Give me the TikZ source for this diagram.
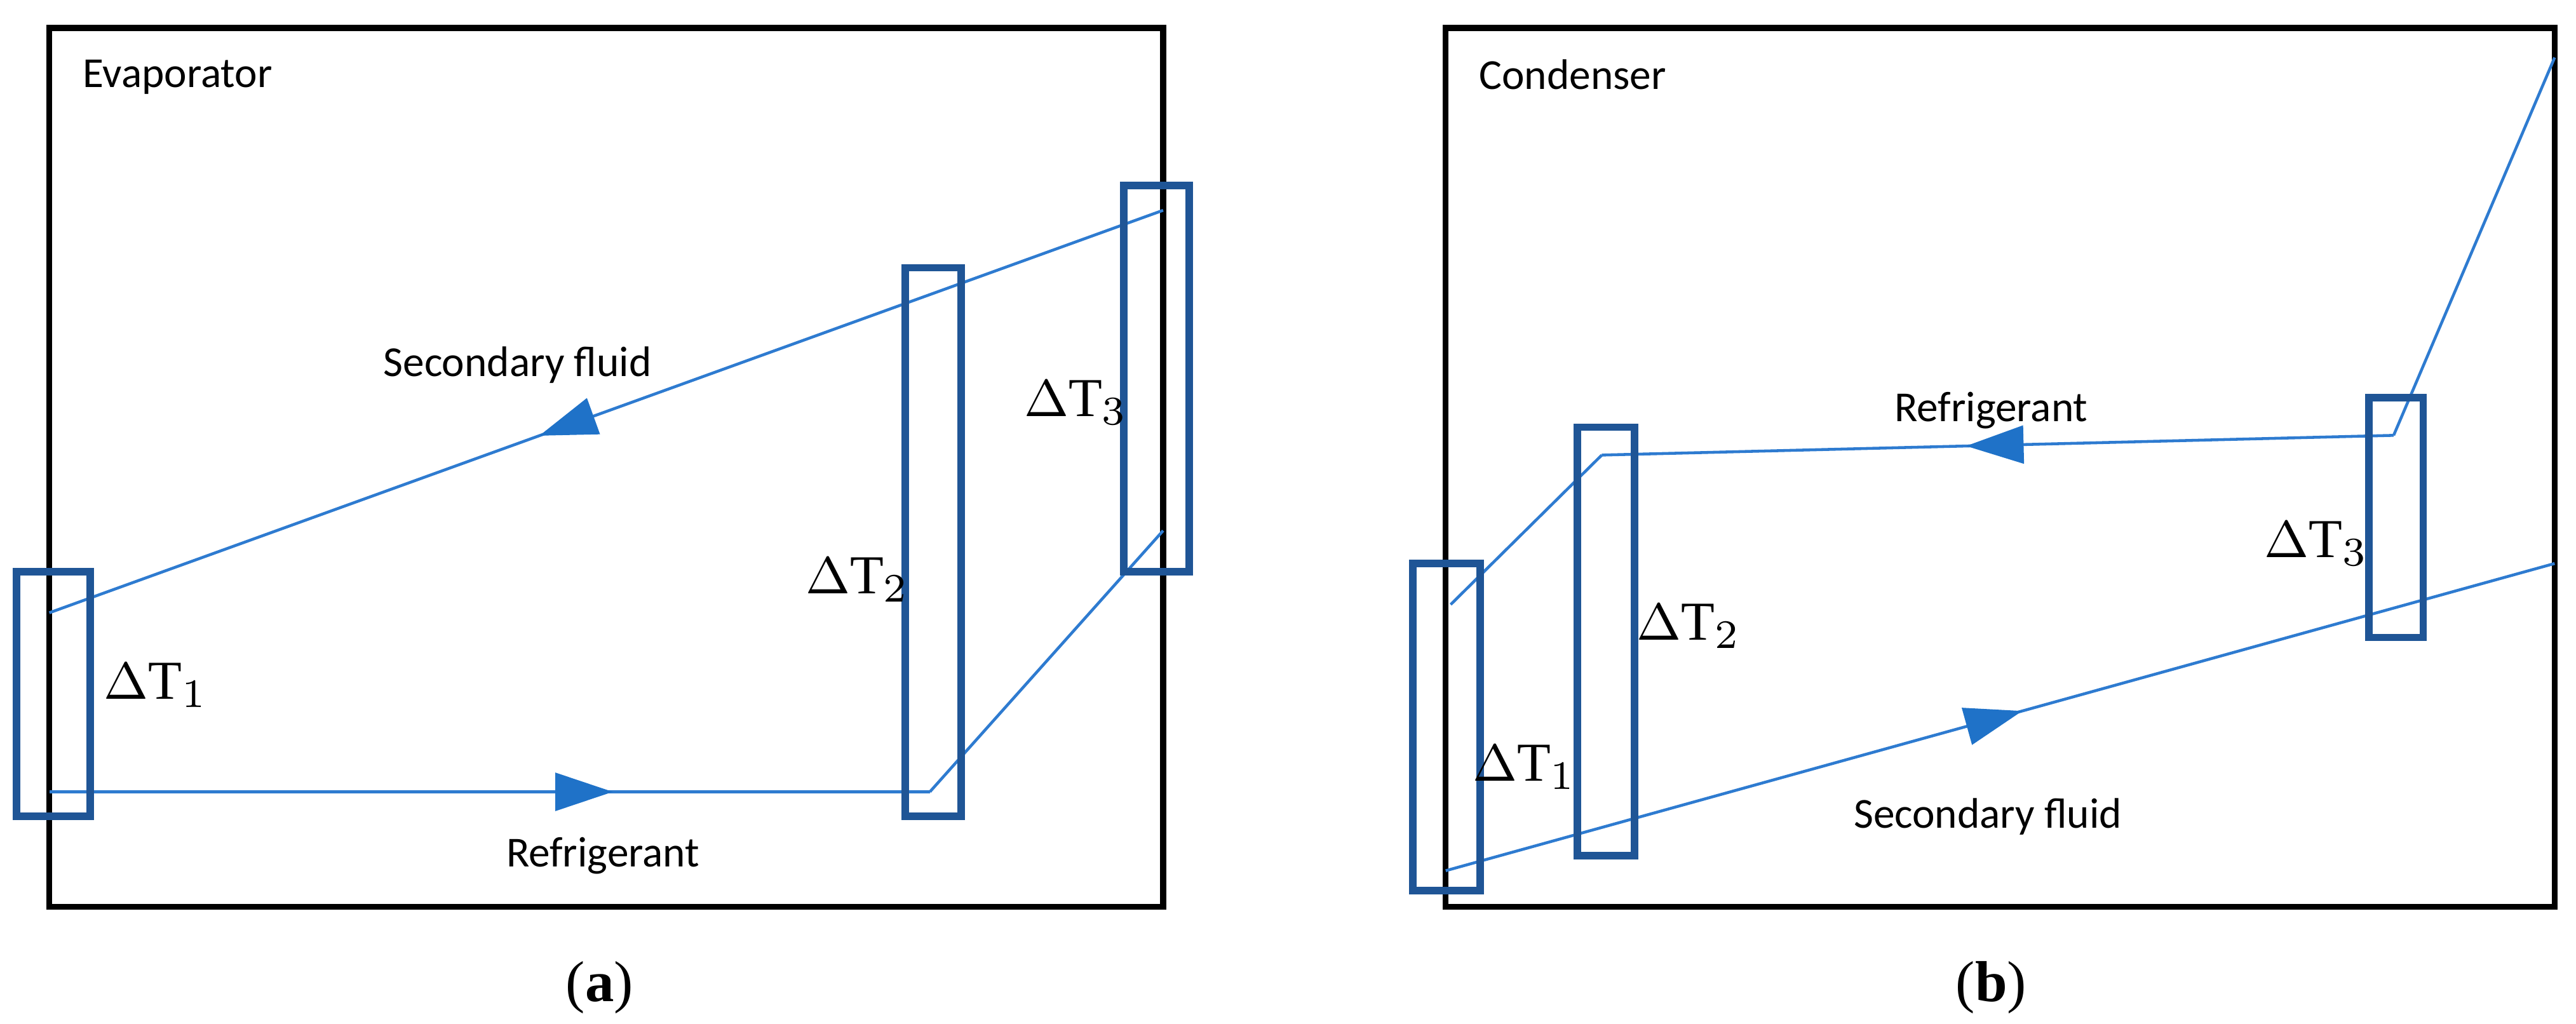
\documentclass[tikz,border=0pt]{standalone}
\usepackage{fontspec}
\setmainfont{Carlito}
\newfontfamily\dtfont{Liberation Serif}
\usetikzlibrary{arrows.meta,decorations.markings}
\definecolor{boxblue}{HTML}{1F5596}
\definecolor{flowblue}{HTML}{2E7BD0}
\definecolor{tipblue}{HTML}{1F72C8}
\tikzset{
  frame/.style={draw=black, line width=1pt},
  cell/.style={draw=boxblue, line width=1.3pt},
  flow/.style={draw=flowblue, line width=0.5pt},
  tip at/.style={postaction={decorate}, decoration={markings,
      mark=at position #1 with {\arrow{Triangle[length=3.5mm,width=2.3mm,fill=tipblue,color=tipblue]}}}},
  tipback at/.style={postaction={decorate}, decoration={markings,
      mark=at position #1 with {\arrowreversed{Triangle[length=3.5mm,width=2.3mm,fill=tipblue,color=tipblue]}}}},
  lbl/.style={font=\fontsize{7.4}{9}\selectfont},
  dt/.style={font=\dtfont\fontsize{9.5}{11}\selectfont},
}
\begin{document}
\begin{tikzpicture}[x=0.01cm,y=-0.01cm]
  \useasboundingbox (0,0) rectangle (1568,623);
  % (a) evaporator
  \draw[frame] (30,17) rectangle (708,552);
  \node[lbl, anchor=north west] (evap) at (38,24) {Evaporator};
  \coordinate (s1) at (30,373);
  \coordinate (s2) at (708,128);
  \coordinate (r1) at (30,482);
  \coordinate (r2) at (566,482);
  \coordinate (r3) at (708,323);
  \draw[flow, tipback at=0.44] (s1) -- (s2);
  \draw[flow, tip at=0.64] (r1) -- (r2);
  \draw[flow] (r2) -- (r3);
  \draw[cell] (10,348) rectangle (55,497);
  \draw[cell] (551,163) rectangle (585,497);
  \draw[cell] (684,113) rectangle (724,348);
  \node[lbl] (sfa) at (315,222) {Secondary fluid};
  \node[lbl] (rfa) at (367,521) {Refrigerant};
  \node[dt] (dt1a) at (95,417) {$\Delta$T$_1$};
  \node[dt] (dt2a) at (522,353) {$\Delta$T$_2$};
  \node[dt] (dt3a) at (655,245) {$\Delta$T$_3$};
  \node[font=\dtfont\fontsize{10}{12}\selectfont] (capa) at (365,601) {(\textbf{a})};
  % (b) condenser
  \draw[frame] (880,17) rectangle (1555,552);
  \node[lbl, anchor=north west] (cond) at (888,24) {Condenser};
  \coordinate (c1) at (1555,35);
  \coordinate (c2) at (1457,265);
  \coordinate (c3) at (975,277);
  \coordinate (c4) at (883,368);
  \coordinate (f1) at (880,530);
  \coordinate (f2) at (1555,343);
  \draw[flow] (c1) -- (c2);
  \draw[flow, tip at=0.54] (c2) -- (c3);
  \draw[flow] (c3) -- (c4);
  \draw[flow, tip at=0.52] (f1) -- (f2);
  \draw[cell] (860,343) rectangle (901,542);
  \draw[cell] (960,260) rectangle (995,521);
  \draw[cell] (1442,242) rectangle (1475,388);
  \node[lbl] (rfb) at (1212,250) {Refrigerant};
  \node[lbl] (sfb) at (1210,497) {Secondary fluid};
  \node[dt] (dt1b) at (928,467) {$\Delta$T$_1$};
  \node[dt] (dt2b) at (1028,381) {$\Delta$T$_2$};
  \node[dt] (dt3b) at (1410,331) {$\Delta$T$_3$};
  \node[font=\dtfont\fontsize{10}{12}\selectfont] (capb) at (1212,601) {(\textbf{b})};
\end{tikzpicture}
\end{document}
